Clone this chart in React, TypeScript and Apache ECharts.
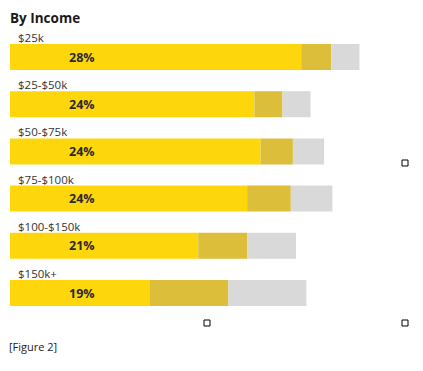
import React, { useEffect, useRef } from "react";
import * as echarts from "echarts";

const categories = ["$25k", "$25-$50k", "$50-$75k", "$75-$100k", "$100-$150k", "$150k+"];
const pctLabels = ["28%", "24%", "24%", "24%", "21%", "19%"];
const yellowValues = [28.0, 23.5, 24.1, 22.8, 18.1, 13.4];
const goldValues = [2.9, 2.7, 3.1, 4.2, 4.7, 7.6];
const grayValues = [2.7, 2.7, 3.0, 4.0, 4.7, 7.5];

const FONT = "'Open Sans', sans-serif";

export default function App() {
  const ref = useRef<HTMLDivElement>(null);
  useEffect(() => {
    if (!ref.current) return;
    const chart = echarts.init(ref.current, null, { renderer: "svg" });
    const handle = (x: number, y: number) => ({
      type: "rect",
      shape: { x, y, width: 6, height: 6 },
      style: { fill: "#fff", stroke: "#000", lineWidth: 1 },
    });
    chart.setOption({
      animation: false,
      backgroundColor: "#fff",
      grid: { left: 10, right: 49, top: 33.4, height: 283.2, containLabel: false },
      xAxis: { type: "value", min: 0, max: 35, show: false },
      yAxis: {
        type: "category",
        data: categories,
        inverse: true,
        show: false,
      },
      series: [
        {
          type: "bar",
          stack: "s",
          barWidth: 26,
          data: yellowValues,
          itemStyle: { color: "#FDD70C" },
          label: {
            show: true,
            position: [8, -13],
            align: "left",
            verticalAlign: "top",
            formatter: (p: any) => `{c|${categories[p.dataIndex]}}\n{p|${pctLabels[p.dataIndex]}}`,
            rich: {
              c: { fontSize: 11.5, color: "#333", fontFamily: FONT, lineHeight: 13, height: 13 },
              p: {
                fontSize: 12.5,
                fontWeight: "bold",
                color: "#2a2a2a",
                fontFamily: FONT,
                lineHeight: 26,
                height: 26,
                padding: [0, 0, 0, 51],
              },
            },
          },
        },
        { type: "bar", stack: "s", barWidth: 26, data: goldValues, itemStyle: { color: "#DCBE3A" } },
        { type: "bar", stack: "s", barWidth: 26, data: grayValues, itemStyle: { color: "#D9D9D9" } },
      ],
      graphic: [
        {
          type: "text",
          left: 10,
          top: 11,
          style: { text: "By Income", fontSize: 13.5, fontWeight: "bold", fill: "#1a1a1a", fontFamily: FONT },
        },
        {
          type: "text",
          left: 9,
          top: 341,
          style: { text: "[Figure 2]", fontSize: 11, fill: "#222", fontFamily: FONT },
        },
        handle(204, 320),
        handle(402, 320),
        handle(402, 160),
      ],
    });
    return () => chart.dispose();
  }, []);
  return <div ref={ref} style={{ width: 423, height: 371, position: "absolute", left: 0, top: 0 }} />;
}
